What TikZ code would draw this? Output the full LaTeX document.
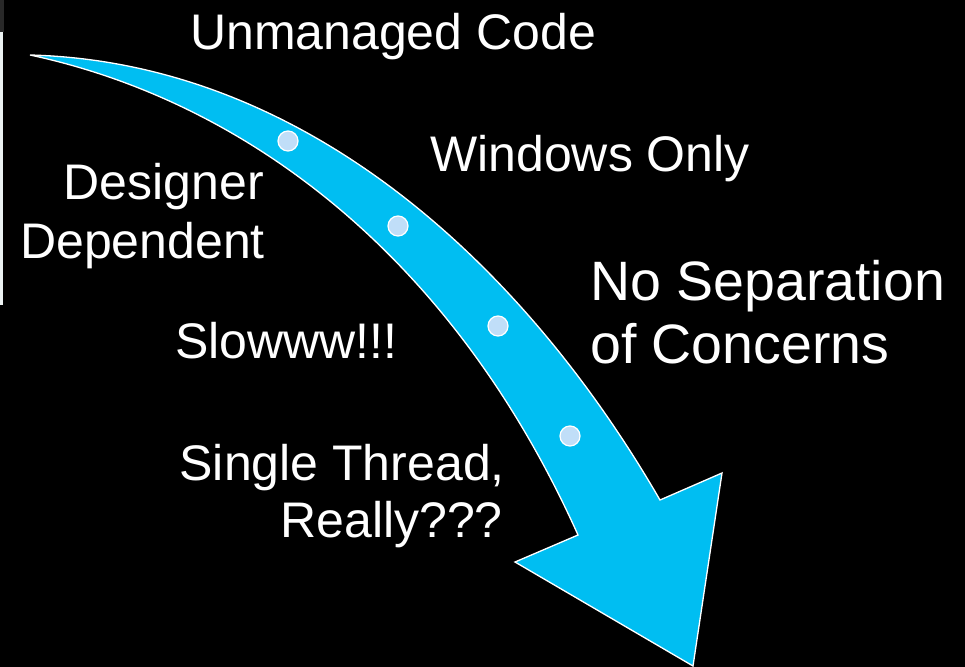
\documentclass[tikz,border=0pt]{standalone}
\usepackage{fontspec}
\setmainfont{Liberation Sans}
\definecolor{arrowblue}{RGB}{0,190,242}
\definecolor{dotblue}{RGB}{192,222,248}
\definecolor{greyband}{RGB}{40,40,40}
\definecolor{lightstrip}{RGB}{236,242,242}
\begin{document}
\begin{tikzpicture}[x=1bp,y=-1bp,
  lbl/.style={text=white,font=\fontsize{50bp}{58bp}\selectfont,inner sep=0pt},
  biglbl/.style={text=white,font=\fontsize{55.5bp}{63bp}\selectfont,inner sep=0pt},
  dotmark/.style={circle,fill=dotblue,draw=white,line width=1.2bp,minimum size=20bp,inner sep=0pt},
  bandshape/.style={fill=arrowblue,draw=white,line width=1.3bp,line join=miter}]
\fill[black] (0,0) rectangle (965,667);
\useasboundingbox (0,0) rectangle (965,667);
\fill[greyband] (0,0) rectangle (4,32);
\fill[lightstrip] (0,32) rectangle (3,305);
% arrow
\coordinate (tail) at (30,55);
\coordinate (outnotch) at (660,500);
\coordinate (barbR) at (722,473);
\coordinate (tip) at (693,666);
\coordinate (barbL) at (515,562);
\coordinate (innotch) at (578,535);
\draw[bandshape] (tail) .. controls (300,62) and (520,258) .. (outnotch) -- (barbR) -- (tip) -- (barbL) -- (innotch) .. controls (450,250) and (240,100) .. (tail) -- cycle;
% dots
\node[dotmark] (d1) at (288,141) {};
\node[dotmark] (d2) at (398,226) {};
\node[dotmark] (d3) at (498,326) {};
\node[dotmark] (d4) at (570,436) {};
% labels
\node[lbl,anchor=base west] (unm) at (190,50) {Unmanaged Code};
\node[lbl,anchor=base west] (win) at (430,172) {Windows Only};
\node[lbl,anchor=base east] (des1) at (264,199) {Designer};
\node[lbl,anchor=base east] (des2) at (265,258) {Dependent};
\node[biglbl,anchor=base west] (nos1) at (590,300) {No Separation};
\node[biglbl,anchor=base west] (nos2) at (590,363) {of Concerns};
\node[lbl,anchor=base west] (slo) at (175,358) {Slowww!!!};
\node[lbl,anchor=base east] (sin1) at (505,480) {Single Thread,};
\node[lbl,anchor=base east] (sin2) at (503,537) {Really???};
\end{tikzpicture}
\end{document}
